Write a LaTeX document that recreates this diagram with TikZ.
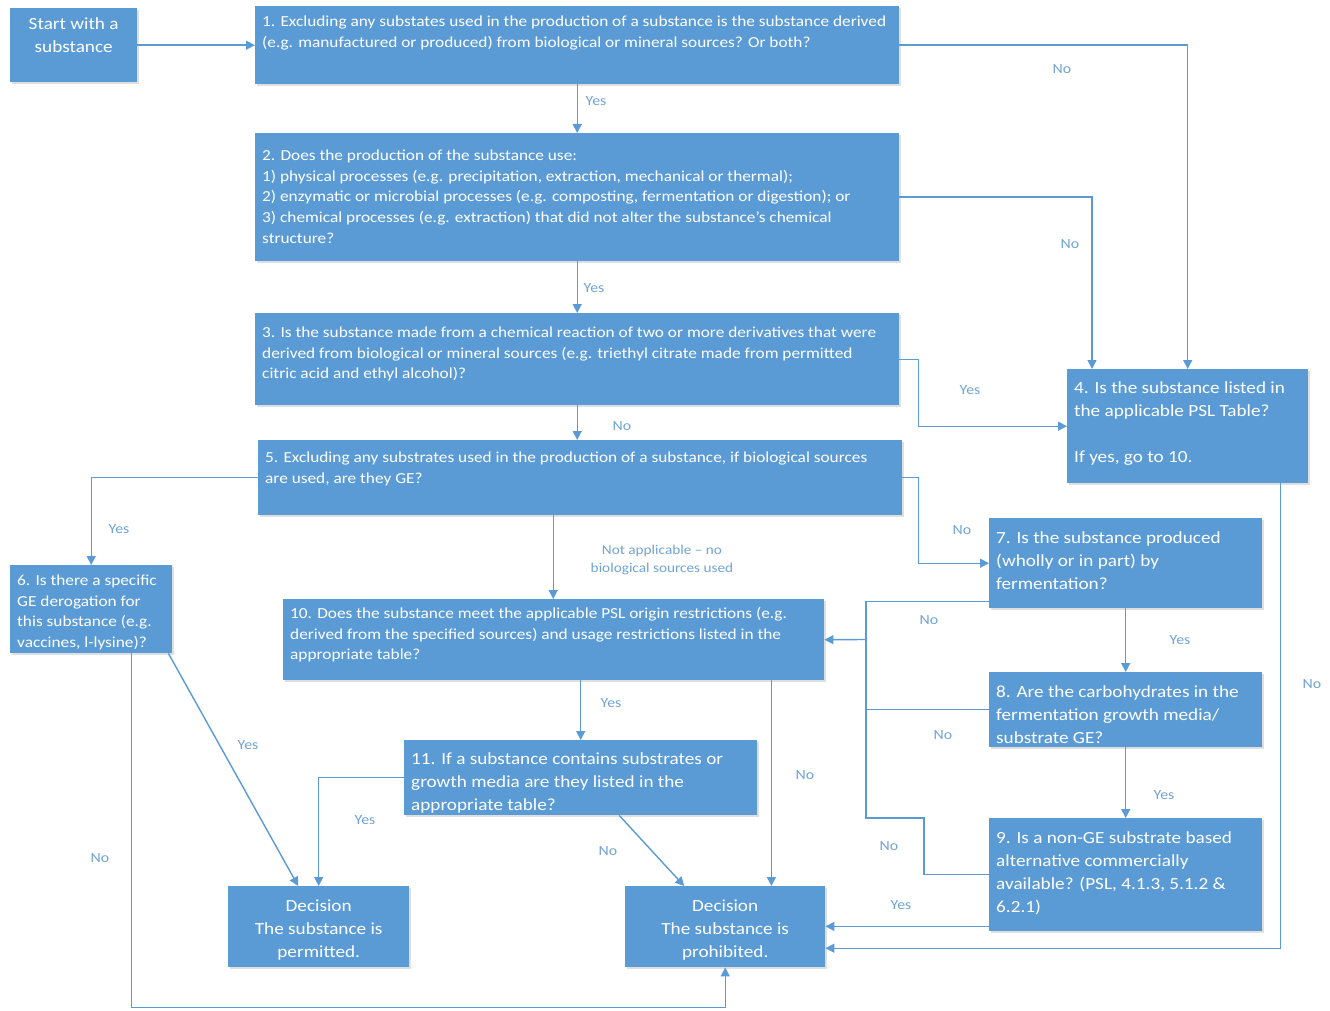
\documentclass[tikz,border=0pt]{standalone}
\usepackage{fontspec}
\setmainfont[FakeStretch=1.13]{Carlito}
\usetikzlibrary{arrows.meta,shadows,calc}
\definecolor{boxblue}{HTML}{5B9BD5}
\definecolor{lineblue}{HTML}{5B9BD5}
\definecolor{lblblue}{HTML}{6FA3D6}
\newcommand{\fa}{\fontsize{15.3}{20.7}\selectfont}
\newcommand{\fb}{\fontsize{17}{23}\selectfont}
\newcommand{\bt}[4]{\parbox[c][#2][t]{#1}{\vspace*{#3}\raggedright #4}}
\newcommand{\ct}[4]{\parbox[c][#2][t]{#1}{\vspace*{#3}\centering #4}}
\begin{document}
\begin{tikzpicture}[x=1pt,y=-1pt,
  box/.style={fill=boxblue, inner xsep=7pt, inner ysep=0pt, anchor=north west, text=white,
    drop shadow={shadow xshift=1.5pt, shadow yshift=-2pt, opacity=0.25}},
  line/.style={draw=lineblue, line width=1.4pt},
  conn/.style={line, -{Triangle[length=9pt,width=9pt]}},
  lbl/.style={text=lblblue, font=\fontsize{14}{16}\selectfont, inner sep=0pt}
]
\useasboundingbox (0,0) rectangle (1330,1011);

% boxes
\node[box] (start) at (10,8) {\ct{113pt}{74pt}{9pt}{\fb Start with a\\substance}};
\node[box] (b1) at (255,6) {\bt{630pt}{78pt}{9.5pt}{\fa 1. Excluding any substates used in the production of a substance is the substance derived\\(e.g. manufactured or produced) from biological or mineral sources? Or both?}};
\node[box] (b2) at (255,133) {\bt{630pt}{128pt}{16.5pt}{\fa 2. Does the production of the substance use:\\1) physical processes (e.g. precipitation, extraction, mechanical or thermal);\\2) enzymatic or microbial processes (e.g. composting, fermentation or digestion); or\\3) chemical processes (e.g. extraction) that did not alter the substance's chemical\\structure?}};
\node[box] (b3) at (255,313) {\bt{630pt}{92pt}{13.5pt}{\fa 3. Is the substance made from a chemical reaction of two or more derivatives that were\\derived from biological or mineral sources (e.g. triethyl citrate made from permitted\\citric acid and ethyl alcohol)?}};
\node[box] (b5) at (258,440) {\bt{630pt}{75pt}{11.5pt}{\fa 5. Excluding any substrates used in the production of a substance, if biological sources\\are used, are they GE?}};
\node[box] (b4) at (1067,369) {\bt{227pt}{114pt}{12pt}{\fb 4. Is the substance listed in\\the applicable PSL Table?\\[23pt]If yes, go to 10.}};
\node[box] (b6) at (10,565) {\bt{148pt}{88pt}{9.5pt}{\fa 6. Is there a specific\\GE derogation for\\this substance (e.g.\\vaccines, l-lysine)?}};
\node[box] (b7) at (989,518) {\bt{259pt}{90pt}{13pt}{\fb 7. Is the substance produced\\(wholly or in part) by\\fermentation?}};
\node[box] (b10) at (283,599) {\bt{527pt}{81pt}{8pt}{\fa 10. Does the substance meet the applicable PSL origin restrictions (e.g.\\derived from the specified sources) and usage restrictions listed in the\\appropriate table?}};
\node[box] (b8) at (989,672) {\bt{259pt}{75pt}{13pt}{\fb 8. Are the carbohydrates in the\\fermentation growth media/\\substrate GE?}};
\node[box] (b11) at (404,740) {\bt{339pt}{75pt}{12pt}{\fb 11. If a substance contains substrates or\\growth media are they listed in the\\appropriate table?}};
\node[box] (b9) at (989,818) {\bt{259pt}{113pt}{13pt}{\fb 9. Is a non-GE substrate based\\alternative commercially\\available? (PSL, 4.1.3, 5.1.2 \&\\6.2.1)}};
\node[box] (dperm) at (228,886) {\ct{167pt}{81pt}{14pt}{\fb Decision\\The substance is\\permitted.}};
\node[box] (dproh) at (625,886) {\ct{186pt}{81pt}{14pt}{\fb Decision\\The substance is\\prohibited.}};

% connectors
\draw[conn] (start.east) -- (start.east -| b1.west);
\draw[conn] (b1.east) -| (b4.north);
\draw[conn] (b1.south) -- (b2.north);
\draw[conn] (b2.east) -| ($(b4.north west)+(25,0)$);
\draw[conn] (b2.south) -- (b3.north);
\draw[conn] (b3.east) -- ++(19,0) |- (b4.west);
\draw[conn] (b3.south) -- (b3.south |- b5.north);
\draw[conn] (b5.west) -| (b6.north);
\draw[conn] (b5.east) -- ++(16,0) |- (b7.west);
\draw[conn] ([xshift=-27pt]b5.south) -- ([xshift=-27pt]b5.south |- b10.north);
\coordinate (bus) at (866,639.5);
\draw[line] ([yshift=7pt]b7.south west) -| (866,818) -- (924,818) |- (b9.west);
\draw[line] (b8.west) -- (b8.west -| bus);
\draw[conn] (bus) -- (b10.east);
\draw[conn] (b7.south) -- (b8.north);
\draw[conn] (b8.south) -- (b9.north);
\draw[conn] ([yshift=5pt]b9.south west) -- ([yshift=5pt]b9.south west -| dproh.east);
\draw[conn] ([xshift=-28pt]b4.south east) |- ([yshift=-21.5pt]dproh.east);
\draw[conn] (b11.north |- b10.south) -- (b11.north);
\draw[conn] ([xshift=-53pt]b10.south east) -- ([xshift=-53pt]b10.south east |- dproh.north);
\draw[conn] (b11.west) -| (dperm.north);
\draw[conn] ([xshift=38.5pt]b11.south) -- ([xshift=-41pt]dproh.north);
\draw[conn] ([xshift=-4pt]b6.south east) -- ([xshift=-20.5pt]dperm.north);
\draw[conn] ([xshift=40pt]b6.south) -- ++(0,354) -| (dproh.south);

% labels
\node[lbl] (l1) at (1062,69) {No};
\node[lbl] (l2) at (596,101) {Yes};
\node[lbl] (l3) at (1070,244) {No};
\node[lbl] (l4) at (594,288) {Yes};
\node[lbl] (l5) at (970,390) {Yes};
\node[lbl] (l6) at (622,426) {No};
\node[lbl] (l7) at (119,529) {Yes};
\node[lbl] (l8) at (962,530) {No};
\node[lbl, align=center, font=\fontsize{13.5}{17.5}\selectfont] (l9) at (662,560) {Not applicable -- no\\biological sources used};
\node[lbl] (l10) at (929,620) {No};
\node[lbl] (l11) at (1180,640) {Yes};
\node[lbl] (l12) at (1312,684) {No};
\node[lbl] (l13) at (611,703) {Yes};
\node[lbl] (l14) at (943,735) {No};
\node[lbl] (l15) at (248,745) {Yes};
\node[lbl] (l16) at (805,775) {No};
\node[lbl] (l17) at (1164,795) {Yes};
\node[lbl] (l18) at (365,820) {Yes};
\node[lbl] (l19) at (889,846) {No};
\node[lbl] (l20) at (608,851) {No};
\node[lbl] (l21) at (100,858) {No};
\node[lbl] (l22) at (901,905) {Yes};
\end{tikzpicture}
\end{document}
